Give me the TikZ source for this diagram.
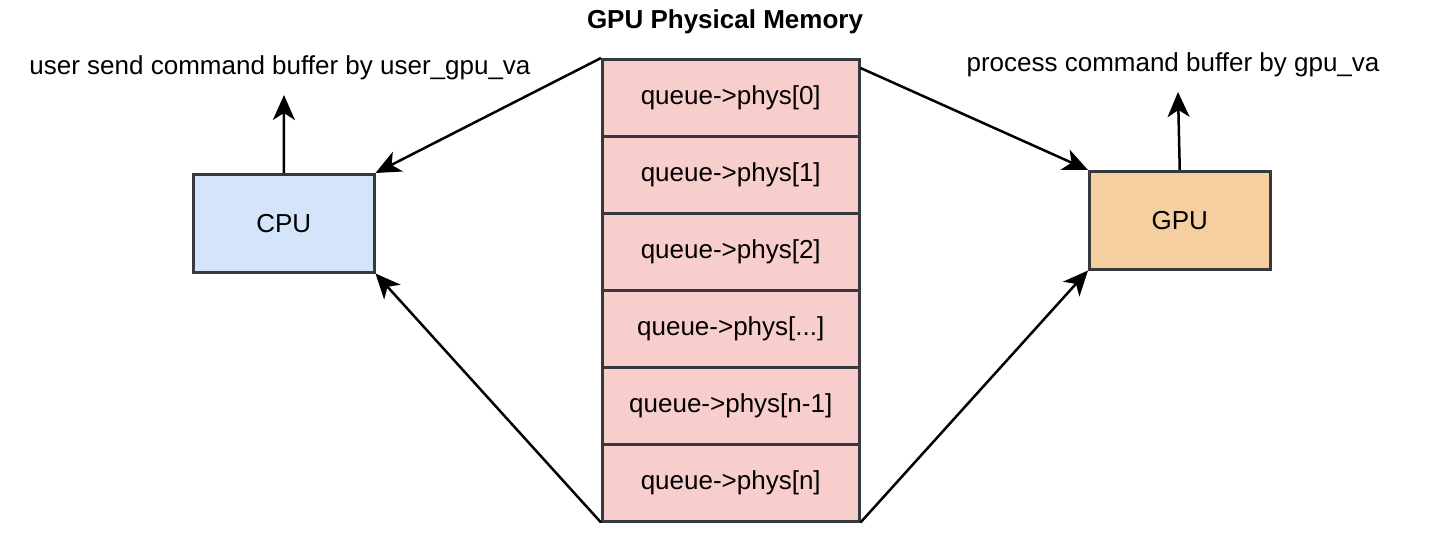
\documentclass[tikz,border=0pt]{standalone}
\usepackage{fontspec}
\setmainfont{Liberation Sans}
\usetikzlibrary{arrows.meta}
\definecolor{strokegray}{HTML}{36393D}
\definecolor{memfill}{HTML}{F8CECC}
\definecolor{cpufill}{HTML}{D4E4FA}
\definecolor{gpufill}{HTML}{F5CFA0}
\tikzset{
  membox/.style={draw=strokegray, line width=2.5pt, fill=memfill, minimum width=257pt, minimum height=77pt, inner sep=0pt, font=\fontsize{26}{31}\selectfont, anchor=north west},
  unitbox/.style={draw=strokegray, line width=2.5pt, minimum width=181pt, minimum height=98pt, inner sep=0pt, font=\fontsize{26}{31}\selectfont, anchor=north west},
  conn/.style={line width=2.5pt, -{Stealth[length=25pt,width=22pt,inset=7pt]}},
  lbl/.style={font=\fontsize{26}{31}\selectfont, inner sep=0pt}
}
\begin{document}
\begin{tikzpicture}[x=1pt,y=-1pt]
\useasboundingbox (0,0) rectangle (1449,536);
\node[lbl, font=\bfseries\fontsize{26}{31}\selectfont] (title) at (725,22) {GPU Physical Memory};
\node[membox] (r0) at (601,58) {queue->phys[0]};
\node[membox] (r1) at (601,135) {queue->phys[1]};
\node[membox] (r2) at (601,212) {queue->phys[2]};
\node[membox] (r3) at (601,289) {queue->phys[...]};
\node[membox] (r4) at (601,366) {queue->phys[n-1]};
\node[membox] (r5) at (601,443) {queue->phys[n]};
\node[unitbox, fill=cpufill] (cpu) at (192,173) {CPU};
\node[unitbox, fill=gpufill] (gpu) at (1088,170) {GPU};
\node[lbl] (ulabel) at (280,68) {user send command buffer by user\_gpu\_va};
\node[lbl] (plabel) at (1173,65) {process command buffer by gpu\_va};
\coordinate (cpuup) at (284,95);
\coordinate (gpuup) at (1178,92);
\draw[conn] (r0.north west) -- (cpu.north east);
\draw[conn] (r5.south west) -- (cpu.south east);
\draw[conn] ([yshift=-10pt]r0.north east) -- (gpu.north west);
\draw[conn] (r5.south east) -- (gpu.south west);
\draw[conn] (cpu.north) -- (cpuup);
\draw[conn] (gpu.north) -- (gpuup);
\end{tikzpicture}
\end{document}
